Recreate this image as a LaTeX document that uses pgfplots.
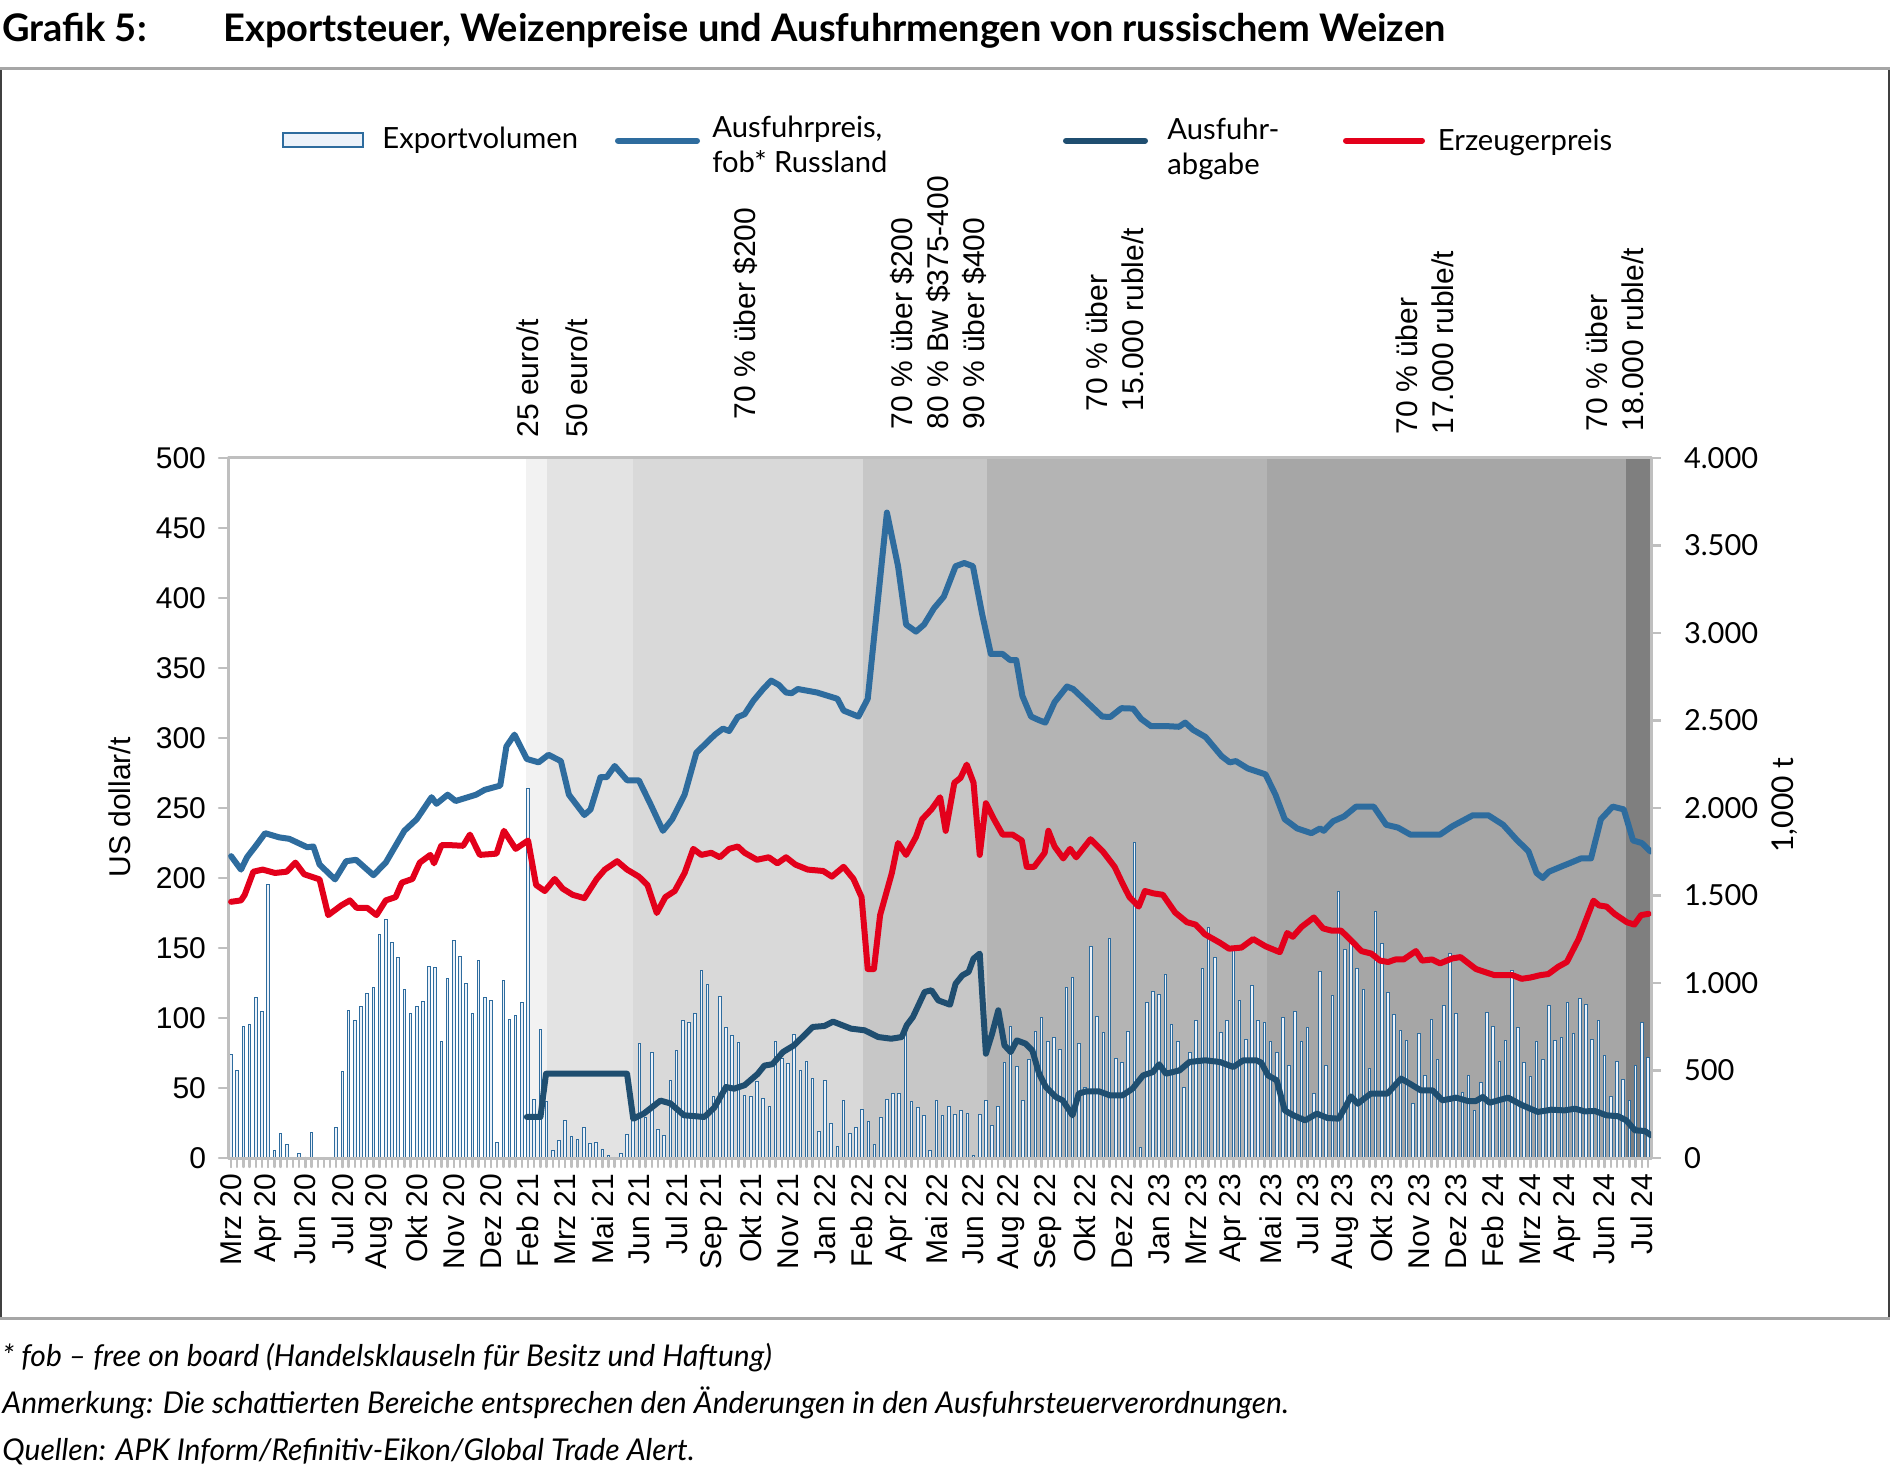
\documentclass[border=0pt]{standalone}
\usepackage{pgfplots}
\pgfplotsset{compat=1.18}
\usepackage{pgfplotstable}
\usepackage{fontspec}
\setmainfont{Lato}
\newfontfamily\arial{Liberation Sans}

\definecolor{preis}{RGB}{46,108,158}
\definecolor{abgabe}{RGB}{31,78,112}
\definecolor{erz}{RGB}{227,0,27}
\definecolor{barfill}{RGB}{236,242,250}
\definecolor{axgray}{RGB}{191,191,191}
\definecolor{frgray}{RGB}{166,166,166}
\definecolor{shA}{RGB}{242,242,242}
\definecolor{shB}{RGB}{227,227,227}
\definecolor{shC}{RGB}{217,217,217}
\definecolor{shD}{RGB}{199,199,199}
\definecolor{shE}{RGB}{180,180,180}
\definecolor{shF}{RGB}{166,166,166}
\definecolor{shG}{RGB}{127,127,127}

\pgfplotstableread{
k v
0 590
1 499
2 754
3 760
4 916
5 838
6 1564
7 44
8 139
9 78
10 3
11 27
12 0
13 145
14 0
15 0
16 3
17 177
18 497
19 844
20 783
21 863
22 941
23 975
24 1278
25 1364
26 1232
27 1145
28 962
29 825
30 865
31 893
32 1093
33 1088
34 667
35 1027
36 1242
37 1149
38 998
39 823
40 1128
41 916
42 899
43 86
44 1013
45 794
46 817
47 890
48 2110
49 337
50 733
51 324
52 40
53 99
54 215
55 120
56 105
57 177
58 82
59 88
60 51
61 15
62 4
63 23
64 133
65 250
66 655
67 230
68 600
69 164
70 131
71 444
72 617
73 785
74 773
75 823
76 1070
77 989
78 350
79 920
80 747
81 699
82 661
83 356
84 350
85 438
86 341
87 295
88 663
89 571
90 540
91 705
92 499
93 550
94 453
95 150
96 440
97 198
98 67
99 326
100 141
101 173
102 276
103 206
104 76
105 230
106 337
107 371
108 371
109 739
110 322
111 290
112 242
113 44
114 326
115 242
116 295
117 250
118 272
119 257
120 13
121 250
122 326
123 183
124 297
125 545
126 754
127 520
128 326
129 560
130 720
131 804
132 665
133 690
134 621
135 973
136 1034
137 657
138 400
139 1211
140 808
141 718
142 1253
143 566
144 547
145 722
146 1800
147 59
148 888
149 949
150 933
151 1050
152 762
153 667
154 400
155 600
156 783
157 1082
158 1318
159 1145
160 716
161 785
162 1206
163 899
164 676
165 985
166 785
167 773
168 665
169 602
170 804
171 531
172 836
173 665
174 745
175 366
176 1067
177 530
178 931
179 1524
180 1194
181 1251
182 1082
183 964
184 509
185 1411
186 1223
187 945
188 819
189 731
190 670
191 312
192 714
193 470
194 794
195 560
196 872
197 1171
198 823
199 373
200 472
201 274
202 434
203 834
204 752
205 550
206 669
207 1070
208 747
209 547
210 463
211 663
212 562
213 874
214 674
215 688
216 890
217 714
218 914
219 876
220 676
221 785
222 583
223 349
224 549
225 450
226 331
227 531
228 777
229 575
}\bars

\pgfplotstableread{
k v
0 215.6
1.6 206
2.6 215
4 223
5.5 232
7.8 229
9.4 228
12.3 222
13.3 222.5
14.3 209.6
16.8 199
18.6 212
20.2 213
23 202
25 211
28 233.7
30 242
32.4 257.7
33.2 253
35 259.5
36.3 255
39.6 259.5
41 263
43.5 266
44.5 294
45.8 302.4
47.8 285
49.7 282.6
51.3 288
53.3 283.5
54.6 259.5
57.1 245
58.1 249
59.7 272
60.7 272
62 280
64 269.8
65.9 269.8
67.8 252.6
69.8 233.7
71.3 242
73.3 259.5
75.2 289.5
76.6 295.5
78.2 302.4
79.5 306.7
80.5 305
81.9 315
83 317
84.4 326.5
86 335
87.3 341
88.5 338
89.7 332.5
90.6 332
91.6 335
94.7 332.5
98 328
99 319.6
101.4 315.3
102.9 328
104.3 388
106 461
107.8 422.7
109.1 381
110.7 376
112 381
113.6 392.6
115.2 401
117.1 422.7
118.5 425
119.9 422.7
121.4 388.3
122.8 360
124.7 360
125.9 355.7
126.9 355.7
127.9 330
129.3 315.3
130.6 312.7
131.6 311
133.1 325.6
135.1 336.8
136.1 335
140.8 315.3
142.1 315
143.9 321.3
145.8 321
147.1 313.6
148.7 308.4
151.6 308.4
153.2 308
154.2 311
155.5 305.8
157.5 300.7
160.1 287
161.4 282.6
162.4 283.5
164.3 278.3
167.2 274
168.8 259.5
170.3 242
172.3 235.4
174.6 232
176 235.4
176.6 233.7
178.1 240.5
179.9 244
181.8 250.9
184.7 250.9
186.7 238
188.6 236
190.6 231
195.4 231
197.4 237
200.7 244.8
203.2 244.8
205.6 238
207.7 227.7
209.7 219
211 203.6
212 200
213 204.5
214.9 208
216.3 210.5
218.2 214
219.8 214
221.4 242
223.3 251
225.1 249
226.6 226.8
228 225
229.4 219
}\preisdata

\pgfplotstableread{
k v
0 183
1.6 184
2.2 188
3.6 204.5
5.1 206
7.1 203.6
9 204.5
10.4 211
11.8 202.7
14.3 199
15.7 173.5
17.8 180.4
19.2 184
20.3 178.7
22 178.7
23.5 173.5
25 184
26.6 186.4
27.6 196.7
29.3 199.3
30.5 211
32.2 216.5
32.8 210.5
34 223.4
35.7 223.4
37.5 223
38.6 231
40.2 216.5
42.9 217.4
44.1 233.7
46 220.8
48 226.8
49.3 195
50.7 190.7
52.3 199.3
53.6 192.4
55.2 188
57.1 185.6
59.1 199.3
60.4 206
62.4 212
64 206
65.9 201
67.3 195
68.8 175
70.2 186.4
71.7 190.7
73.3 203.6
74.7 220.8
76 216.5
77.6 218
79 214.8
80.5 220.8
81.9 222.5
83 218
85 213
86.9 214.8
88.3 210.5
89.7 214.8
91.2 209.6
93.2 206
95.7 205
97.1 201
99 208
100.6 199.3
101.9 186.4
102.9 135
103.9 135
104.9 173.5
106.8 203.6
107.8 225
109.1 216.5
110.7 229.4
111.7 242
113.2 249
114.6 257.7
115.5 233.7
116.9 268
117.9 271.5
118.9 281
120 268
121 216.5
122 253.4
123.3 242
124.7 231
126.3 231
127.8 226.8
128.6 208
129.8 208
131.5 218
132.1 233.7
133.1 222.5
134.5 214
135.6 220.8
136.6 214.8
138.9 227.7
140.9 219
142.8 208
144.2 195
145.2 186.4
146.7 179.6
147.7 190.7
149.1 189
150.6 188
152.6 175.3
154.5 168.4
155.9 166.7
157.4 159.8
159.8 153.8
161.3 149.5
163.3 150.3
165.2 156.4
167.2 151.2
169.5 147
170.7 160.7
171.6 158
173 165
175 171.8
176.5 164
177.9 162.4
179.4 162.4
180.8 156.4
182.7 147.8
184.3 146
185.7 141
187 140
188.2 141.8
189.5 141.8
191.5 147.8
192.5 141
194.1 141.8
195.4 139
197.4 142.6
198.7 143.5
201.2 135
204.2 130.6
207.1 130.6
208.6 128
210 128.9
211.6 130.6
212.9 131.4
214.5 136.6
215.9 140
217.8 156.4
220.2 183.8
221.1 180.4
222.3 179.6
223.6 174.4
225.6 168.4
226.8 166.7
227.9 173.5
229.1 174.4
}\erzdata

\pgfplotstableread{
k v
47.8 29.3
50 29.3
50.9 60.2
64 60.2
65 28
66.7 31.7
69.4 41
71 39
73.2 30.5
76.5 29.3
78.1 36
80 50.7
81.3 49.5
83 52
85.1 60
86.2 66
87.5 67
89.2 75.7
91 80.5
94 93.6
95.9 94.3
97.3 97.4
100.2 92.4
102.4 91.2
104.6 86.4
106.7 85.2
108.4 86.4
109.2 94.8
110.2 100.7
112.1 118.6
113.2 119.8
114.3 112.6
116.2 109.5
117.1 124.5
118.2 130.5
119.2 132.9
120 142.4
121 146
122 74.5
123 88.8
124 105.5
125 80.5
126 75.7
127 84
128.4 81.7
129.5 76.9
130.6 60.2
131.7 50.7
133.3 43.6
134.4 41.2
136 30.5
137 46
138.2 47.6
140.3 47.6
142 44.8
144.1 44.8
145.7 49.5
147.4 59
149 61.4
150 66.9
151.1 60.2
153.3 62.6
154.9 68.6
157.4 69.8
159.8 68.6
162 65
163.6 69.8
165.7 69.8
166.5 68.1
167.6 59
169 55.5
170.3 34
171.7 30.5
173.6 26.9
175.5 31.7
177.2 28.6
179 28.1
180.1 36.4
181 44
182.1 38.8
184.2 46
186.9 46
189.1 56.7
190.7 52.6
192.3 48.3
194.2 48.3
195.8 41.2
198 43.1
199.9 40.7
201.2 40.7
202.3 43.6
203.4 39.5
206.4 43.1
208.5 38.1
211.2 32.9
213.4 34.5
215.5 34
217.2 35.2
218.8 33.3
220.4 33.6
222.3 30.5
224.2 29.8
225.5 26.9
226.9 19.8
228.5 19.3
229.5 16.2
}\abgabedata

\newcommand\fifteen{\fontsize{15}{18}\selectfont}
\newcommand\legfont{\fontsize{14.6}{17.5}\selectfont}

\begin{document}
\begin{tikzpicture}[x=1pt,y=1pt]
\useasboundingbox (0,0) rectangle (945,736.5);

% title
\node[anchor=base west, inner sep=0, font=\bfseries\fontsize{19}{22}\selectfont] at (1,715.5) {Grafik 5:};
\node[anchor=base west, inner sep=0, font=\bfseries\fontsize{19}{22}\selectfont] at (111.5,715.5) {Exportsteuer, Weizenpreise und Ausfuhrmengen von russischem Weizen};

% frame
\draw[black!75, line width=0.6pt] (0.5,702) -- (0.5,77.5);
\draw[black!75, line width=0.6pt] (944.5,702) -- (944.5,77.5);
\draw[frgray, line width=1.5pt] (0,702) -- (945,702);
\draw[frgray, line width=1.5pt] (0,77.5) -- (945,77.5);

% bar axis (right)
\begin{axis}[
  at={(114pt,157.5pt)}, anchor=south west, scale only axis,
  width=711.5pt, height=350pt,
  xmin=-0.5, xmax=229.5, ymin=0, ymax=4000,
  hide x axis,
  axis y line*=right,
  axis line style={draw=axgray, line width=1.5pt},
  ytick={0,500,...,4000},
  yticklabels={0,500,1.000,1.500,2.000,2.500,3.000,3.500,4.000},
  tick align=outside, major tick length=5pt,
  ytick style={draw=axgray, line width=1.2pt},
  yticklabel style={font=\fontsize{14.5}{17}\selectfont, xshift=8pt},
]
\addplot[fill=shA, draw=none] coordinates {(47.7,4000) (51,4000)} \closedcycle;
\addplot[fill=shB, draw=none] coordinates {(51,4000) (65,4000)} \closedcycle;
\addplot[fill=shC, draw=none] coordinates {(65,4000) (102.2,4000)} \closedcycle;
\addplot[fill=shD, draw=none] coordinates {(102.2,4000) (122.1,4000)} \closedcycle;
\addplot[fill=shE, draw=none] coordinates {(122.1,4000) (167.4,4000)} \closedcycle;
\addplot[fill=shF, draw=none] coordinates {(167.4,4000) (225.4,4000)} \closedcycle;
\addplot[fill=shG, draw=none] coordinates {(225.4,4000) (229.5,4000)} \closedcycle;
\addplot[ybar, bar width=0.42, fill=barfill, draw=preis, line width=0.5pt] table[x=k, y=v] {\bars};
\end{axis}

% price axis (left)
\begin{axis}[
  at={(114pt,157.5pt)}, anchor=south west, scale only axis,
  width=711.5pt, height=350pt,
  xmin=-0.5, xmax=229.5, ymin=0, ymax=500,
  axis line style={draw=axgray, line width=1.5pt},
  xtick pos=left, ytick pos=left,
  tick align=outside,
  ytick={0,50,...,500},
  yticklabels={0,50,100,150,200,250,300,350,400,450,500},
  xtick={0,6,...,228},
  xticklabels={Mrz 20,Apr 20,Jun 20,Jul 20,Aug 20,Okt 20,Nov 20,Dez 20,Feb 21,Mrz 21,Mai 21,Jun 21,Jul 21,Sep 21,Okt 21,Nov 21,Jan 22,Feb 22,Apr 22,Mai 22,Jun 22,Aug 22,Sep 22,Okt 22,Dez 22,Jan 23,Mrz 23,Apr 23,Mai 23,Jul 23,Aug 23,Okt 23,Nov 23,Dez 23,Feb 24,Mrz 24,Apr 24,Jun 24,Jul 24},
  minor xtick={0,1,...,229},
  major tick length=4.5pt, minor tick length=4.5pt,
  tick style={draw=axgray, line width=1.2pt},
  minor tick style={draw=axgray, line width=1.2pt},
  xticklabel style={rotate=90, anchor=east, font=\arial\fifteen},
  yticklabel style={font=\arial\fifteen, xshift=-3pt},
  line join=round, line cap=round,
]
\addplot[preis, line width=3pt, no marks] table[x=k, y=v] {\preisdata};
\addplot[erz, line width=3pt, no marks] table[x=k, y=v] {\erzdata};
\addplot[abgabe, line width=3pt, no marks] table[x=k, y=v] {\abgabedata};
\end{axis}

% axis titles
\node[rotate=90, font=\arial\fifteen, inner sep=0] at (60,332.7) {US dollar/t};
\node[rotate=90, font=\fifteen, inner sep=0] at (892.5,334) {1,000 t};

% legend
\draw[preis, line width=0.8pt, fill=barfill] (141.5,663) rectangle (181.5,670);
\node[anchor=west, inner sep=0, font=\legfont] at (191,666.5) {Exportvolumen};
\draw[preis, line width=3pt, line cap=round] (309,666.2) -- (348.5,666.2);
\node[anchor=west, inner sep=0, font=\legfont, align=left] at (356,664.5) {Ausfuhrpreis,\\fob* Russland};
\draw[abgabe, line width=3pt, line cap=round] (533,666.2) -- (572.5,666.2);
\node[anchor=west, inner sep=0, font=\legfont, align=left] at (583.5,662) {Ausfuhr-\\abgabe};
\draw[erz, line width=3pt, line cap=round] (673,666.2) -- (711,666.2);
\node[anchor=west, inner sep=0, font=\legfont] at (718.75,665) {Erzeugerpreis};

% annotations
\node[rotate=90, anchor=west, inner sep=0, font=\arial\fifteen, align=left] at (264,517.5) {25 euro/t};
\node[rotate=90, anchor=west, inner sep=0, font=\arial\fifteen, align=left] at (288.5,517.5) {50 euro/t};
\node[rotate=90, anchor=west, inner sep=0, font=\arial\fifteen, align=left] at (372.5,526.5) {70 \% über \$200};
\node[rotate=90, anchor=west, inner sep=0, font=\arial\fifteen, align=left] at (469,521.5) {70 \% über \$200\\80 \% Bw \$375-400\\90 \% über \$400};
\node[rotate=90, anchor=west, inner sep=0, font=\arial\fifteen, align=left] at (557.5,530.5) {70 \% über\\15.000 ruble/t};
\node[rotate=90, anchor=west, inner sep=0, font=\arial\fifteen, align=left] at (712.5,519) {70 \% über\\17.000 ruble/t};
\node[rotate=90, anchor=west, inner sep=0, font=\arial\fifteen, align=left] at (807.5,520.5) {70 \% über\\18.000 ruble/t};

% footnotes
\node[anchor=base west, inner sep=0, font=\itshape\fontsize{15}{18}\selectfont] at (1,53.5) {* fob – free on board (Handelsklauseln für Besitz und Haftung)};
\node[anchor=base west, inner sep=0, font=\itshape\fontsize{15}{18}\selectfont] at (1,30) {Anmerkung: Die schattierten Bereiche entsprechen den Änderungen in den Ausfuhrsteuerverordnungen.};
\node[anchor=base west, inner sep=0, font=\itshape\fontsize{15}{18}\selectfont] at (1,6.5) {Quellen: APK Inform/Refinitiv-Eikon/Global Trade Alert.};
\end{tikzpicture}
\end{document}
